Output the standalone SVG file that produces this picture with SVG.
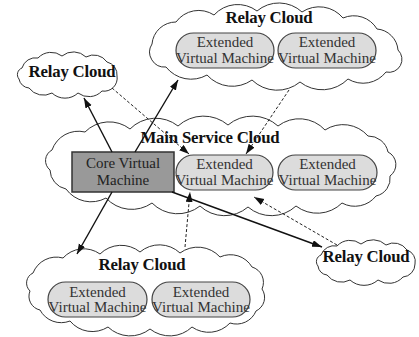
<svg xmlns="http://www.w3.org/2000/svg" width="419" height="337" viewBox="0 0 419 337">
<defs>
<marker id="ah" markerWidth="10" markerHeight="8" refX="10" refY="3.5" orient="auto" markerUnits="userSpaceOnUse"><path d="M0,0 L10,3.5 L0,7 z" fill="#111"/></marker>
</defs>
<style>
.cloud{fill:#fff;stroke:#333;stroke-width:1}
.pill{fill:#dcdcdc;stroke:#444;stroke-width:1.2}
.core{fill:#999;stroke:#333;stroke-width:1.5}
.title{font-family:"Liberation Serif",serif;font-weight:bold;font-size:16.8px;fill:#111;text-anchor:middle;letter-spacing:-0.2px}
.lbl{font-family:"Liberation Serif",serif;font-size:15px;fill:#333;text-anchor:middle}
.solid{stroke:#111;stroke-width:1.4;fill:none;marker-end:url(#ah)}
.dash{stroke:#222;stroke-width:1;fill:none;stroke-dasharray:3,2;marker-end:url(#ah)}
</style>
<rect width="419" height="337" fill="#fff"/>
<g id="relay-cloud-top">
<path class="cloud" d="M152,44 A24,24 0 0 1 176,22 A28,28 0 0 1 214,15 A32,32 0 0 1 257,11 A34,34 0 0 1 302,12 A31,31 0 0 1 343,18 A27,27 0 0 1 377,29 A23,23 0 0 1 398,50 A13,13 0 0 1 386,72 A29,29 0 0 1 348,79 A36,36 0 0 1 300,82 A36,36 0 0 1 252,80 A34,34 0 0 1 207,75 A32,32 0 0 1 166,67 A15,15 0 0 1 152,44 Z"/>
<text class="title" x="269" y="23">Relay Cloud</text>
</g>
<g id="evm-top-1">
<rect class="pill" x="176" y="33" width="98" height="35" rx="17.5"/>
<text class="lbl" x="225" y="47">Extended</text>
<text class="lbl" x="225" y="63">Virtual Machine</text>
</g>
<g id="evm-top-2">
<rect class="pill" x="278" y="33" width="98" height="35" rx="17.5"/>
<text class="lbl" x="327" y="47">Extended</text>
<text class="lbl" x="327" y="63">Virtual Machine</text>
</g>
<g id="relay-cloud-left">
<path class="cloud" d="M22,68 A14,14 0 0 1 38,58 A18,18 0 0 1 62,56 A18,18 0 0 1 86,57 A16,16 0 0 1 107,62 A13,13 0 0 1 117,76 A13,13 0 0 1 102,91 A18,18 0 0 1 78,93 A19,19 0 0 1 52,93 A18,18 0 0 1 29,88 A11,11 0 0 1 19,79 A7,7 0 0 1 22,68 Z"/>
<text class="title" x="72" y="77">Relay Cloud</text>
</g>
<g id="main-service-cloud">
<path class="cloud" d="M52,150 A28,28 0 0 1 85,132 A34,34 0 0 1 130,129 A36,36 0 0 1 178,126 A38,38 0 0 1 228,125 A38,38 0 0 1 278,126 A35,35 0 0 1 325,130 A33,33 0 0 1 368,136 A20,20 0 0 1 388,152 A14,14 0 0 1 390,176 A18,18 0 0 1 376,196 A27,27 0 0 1 342,203 A35,35 0 0 1 296,206 A36,36 0 0 1 248,207 A36,36 0 0 1 200,206 A36,36 0 0 1 152,203 A35,35 0 0 1 106,198 A31,31 0 0 1 66,189 A20,20 0 0 1 50,170 A12,12 0 0 1 52,150 Z"/>
<text class="title" x="210" y="143">Main Service Cloud</text>
</g>
<g id="core-vm">
<rect class="core" x="72" y="152" width="102" height="40"/>
<text class="lbl" x="123" y="168" style="fill:#222">Core Virtual</text>
<text class="lbl" x="123" y="185" style="fill:#222">Machine</text>
</g>
<g id="evm-main-1">
<rect class="pill" x="176" y="155" width="97" height="35" rx="17.5"/>
<text class="lbl" x="224.5" y="169">Extended</text>
<text class="lbl" x="224.5" y="185">Virtual Machine</text>
</g>
<g id="evm-main-2">
<rect class="pill" x="278" y="155" width="99" height="35" rx="17.5"/>
<text class="lbl" x="327.5" y="169">Extended</text>
<text class="lbl" x="327.5" y="185">Virtual Machine</text>
</g>
<g id="relay-cloud-bottom">
<path class="cloud" d="M33,273 A25,25 0 0 1 63,258 A28,28 0 0 1 100,254 A30,30 0 0 1 140,252 A30,30 0 0 1 180,253 A30,30 0 0 1 220,257 A25,25 0 0 1 252,267 A16,16 0 0 1 262,289 A15,15 0 0 1 256,311 A21,21 0 0 1 230,323 A29,29 0 0 1 192,327 A32,32 0 0 1 150,329 A32,32 0 0 1 108,327 A29,29 0 0 1 70,321 A24,24 0 0 1 40,310 A14,14 0 0 1 30,291 A11,11 0 0 1 33,273 Z"/>
<text class="title" x="142" y="270">Relay Cloud</text>
</g>
<g id="evm-bottom-1">
<rect class="pill" x="48" y="282" width="99" height="35" rx="17.5"/>
<text class="lbl" x="97.5" y="297">Extended</text>
<text class="lbl" x="97.5" y="312">Virtual Machine</text>
</g>
<g id="evm-bottom-2">
<rect class="pill" x="152" y="282" width="98" height="35" rx="17.5"/>
<text class="lbl" x="201" y="297">Extended</text>
<text class="lbl" x="201" y="312">Virtual Machine</text>
</g>
<g id="relay-cloud-right">
<path class="cloud" d="M321,255 A14,14 0 0 1 337,246 A18,18 0 0 1 361,244 A19,19 0 0 1 386,245 A16,16 0 0 1 407,250 A12,12 0 0 1 415,264 A13,13 0 0 1 403,277 A19,19 0 0 1 378,280 A21,21 0 0 1 350,280 A18,18 0 0 1 327,275 A10,10 0 0 1 318,266 A7,7 0 0 1 321,255 Z"/>
<text class="title" x="366" y="262">Relay Cloud</text>
</g>
<g id="connectors">
<line class="solid" x1="112" y1="152" x2="84" y2="98"/>
<line class="solid" x1="135" y1="152" x2="178" y2="80"/>
<line class="solid" x1="112" y1="192" x2="77" y2="254"/>
<line class="solid" x1="172" y1="192" x2="322" y2="247"/>
<line class="dash" x1="112" y1="88" x2="189" y2="154"/>
<line class="dash" x1="289" y1="90" x2="246" y2="154"/>
<line class="dash" x1="185" y1="247" x2="190" y2="192"/>
<line class="dash" x1="337" y1="245" x2="254" y2="197"/>
</g>
</svg>
